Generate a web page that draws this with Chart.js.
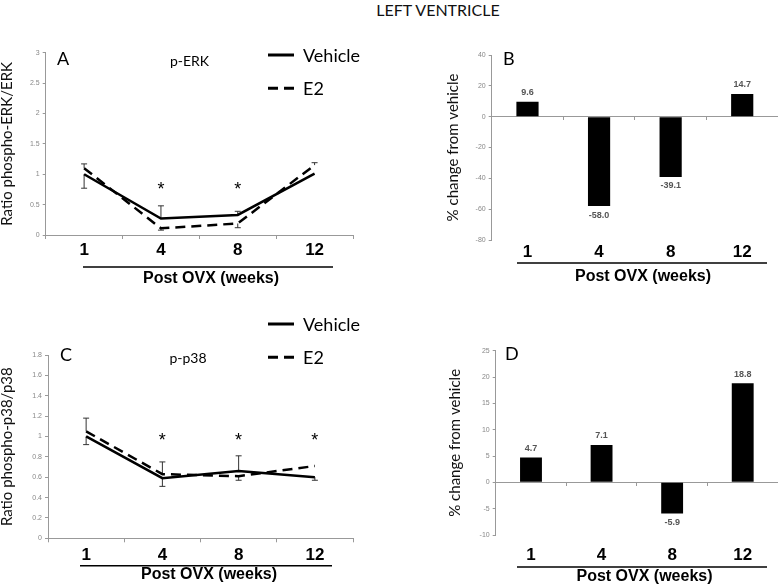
<!DOCTYPE html>
<html>
<head>
<meta charset="utf-8">
<script src="https://cdn.jsdelivr.net/npm/chart.js@4.4.1/dist/chart.umd.min.js"></script>
<style>
  body { margin: 0; background: #fff; width: 778px; height: 586px; position: relative; overflow: hidden; }
  canvas { position: absolute; }
  #title { position: absolute; left: 338px; top: 0; width: 200px; text-align: center; font: 16px Lato, sans-serif; line-height: 20px; color: #111; }
</style>
</head>
<body>
<div id="title">LEFT VENTRICLE</div>
<canvas id="chartA" width="389" height="262" style="left:0;top:30px"></canvas>
<canvas id="chartB" width="389" height="262" style="left:389px;top:30px"></canvas>
<canvas id="chartC" width="389" height="291" style="left:0;top:295px"></canvas>
<canvas id="chartD" width="389" height="291" style="left:389px;top:295px"></canvas>
<script>
const weeks = ['1', '4', '8', '12'];

// A: p-ERK ratio (error bar arrays hold the far end of a one-sided bar)
const erkVehicle = [1.0, 0.27, 0.33, 1.01];
const erkE2 = [1.1, 0.11, 0.19, 1.15];
const erkVehicleErr = [0.77, 0.48, 0.39, null];
const erkE2Err = [1.17, 0.08, 0.12, 1.19];
const erkStars = ['', '*', '*', ''];

// B: % change from vehicle, p-ERK
const erkChange = [9.6, -58.0, -39.1, 14.7];

// C: p-p38 ratio
const p38Vehicle = [1.0, 0.59, 0.66, 0.6];
const p38E2 = [1.05, 0.63, 0.61, 0.71];
const p38VehicleErr = [0.92, 0.51, 0.81, 0.57];
const p38E2Err = [1.18, 0.75, 0.57, null];
const p38Stars = ['', '*', '*', '*'];

// D: % change from vehicle, p-p38
const p38Change = [4.7, 7.1, -5.9, 18.8];

Chart.defaults.font.family = '"Liberation Sans", Arial, sans-serif';
Chart.defaults.animation = false;

const annotate = {
  id: 'annotate',
  beforeDatasetsDraw(chart, args, o) {
    const { ctx, scales: { x, y } } = chart;
    ctx.save();
    ctx.strokeStyle = '#333';
    ctx.lineWidth = 1;
    (o.errors || []).forEach(([vals, ends]) => {
      ends.forEach((end, i) => {
        if (end === null) return;
        const px = x.getPixelForValue(i);
        const y0 = y.getPixelForValue(vals[i]);
        const y1 = y.getPixelForValue(end);
        ctx.beginPath();
        ctx.moveTo(px, y0); ctx.lineTo(px, y1);
        ctx.moveTo(px - 3, y1); ctx.lineTo(px + 3, y1);
        ctx.stroke();
      });
    });
    ctx.restore();
  },
  afterDraw(chart, args, o) {
    const { ctx, scales: { x, y } } = chart;
    ctx.save();
    ctx.fillStyle = '#000';
    ctx.textBaseline = 'middle';

    ctx.font = '18px Lato';
    ctx.textAlign = 'left';
    ctx.fillText(o.letter[0], o.letter[1], o.letter[2]);

    if (o.name) {
      ctx.font = '14px Lato';
      ctx.textAlign = 'center';
      ctx.fillText(o.name[0], o.name[1], o.name[2]);
    }

    if (o.legend) {
      chart.data.datasets.forEach((ds, i) => {
        const ly = o.legend.y[i];
        ctx.strokeStyle = '#000';
        ctx.lineWidth = 3;
        ctx.setLineDash(ds.borderDash || []);
        ctx.beginPath();
        ctx.moveTo(o.legend.x, ly); ctx.lineTo(o.legend.x + 26, ly);
        ctx.stroke();
        ctx.setLineDash([]);
        ctx.font = '18px Lato';
        ctx.textAlign = 'left';
        ctx.fillText(ds.label, o.legend.x + 35, ly + 1);
      });
    }

    if (o.stars) {
      ctx.font = '18px "Liberation Sans"';
      ctx.textAlign = 'center';
      ctx.textBaseline = 'alphabetic';
      o.stars.forEach((s, i) => {
        if (s) ctx.fillText(s, x.getPixelForValue(i), y.getPixelForValue(o.starLevel) + 10);
      });
      ctx.textBaseline = 'middle';
    }

    if (o.barLabels) {
      ctx.font = 'bold 9px "Liberation Sans"';
      ctx.fillStyle = '#555';
      ctx.textAlign = 'center';
      const data = chart.data.datasets[0].data;
      chart.getDatasetMeta(0).data.forEach((bar, i) => {
        const v = data[i];
        ctx.fillText(v.toFixed(1), bar.x, bar.y + (v >= 0 ? -9 : 9));
      });
      ctx.fillStyle = '#000';
    }

    // underline below the week labels and x title
    ctx.strokeStyle = '#000';
    ctx.lineWidth = 1.5;
    ctx.beginPath();
    ctx.moveTo(o.underline[1], o.underline[0]); ctx.lineTo(o.underline[2], o.underline[0]);
    ctx.stroke();
    ctx.font = 'bold 16px "Liberation Sans"';
    ctx.textAlign = 'center';
    ctx.fillText('Post OVX (weeks)', o.xTitle[0], o.xTitle[1]);
    ctx.restore();
  }
};

function yAxis(min, max, step, title, width) {
  return {
    min: min, max: max,
    ticks: { stepSize: step, color: '#888', font: { size: 7 }, padding: 3, callback: v => String(Number(v.toFixed(2))) },
    grid: { drawOnChartArea: false, tickLength: 3, color: '#999' },
    border: { color: '#999' },
    title: { display: true, text: title, color: '#111', font: { family: 'Lato', size: 15, lineHeight: 1 }, padding: 0 },
    afterFit: s => { s.width = width; }
  };
}

function lineX(height, pad) {
  return {
    offset: true,
    ticks: { color: '#000', font: { size: 17, weight: 'bold' }, padding: pad },
    grid: { offset: true, drawOnChartArea: false, tickLength: 4, color: '#999' },
    border: { color: '#999' },
    afterFit: s => { s.height = height; }
  };
}

function barAxes(height, pad) {
  return {
    x: {
      ticks: { color: '#000', font: { size: 17, weight: 'bold' }, padding: pad },
      grid: { display: false, drawTicks: false },
      border: { display: false },
      afterFit: s => { s.height = height; }
    },
    x2: {
      type: 'category', axis: 'x', position: { y: 0 }, offset: true,
      ticks: { display: false },
      grid: { offset: true, drawOnChartArea: false, tickLength: 3, color: '#999' },
      border: { color: '#999' }
    }
  };
}

function lineSets(vehicle, e2) {
  return [
    { label: 'Vehicle', data: vehicle, borderColor: '#000', borderWidth: 2.5, pointRadius: 0, tension: 0 },
    { label: 'E2', data: e2, borderColor: '#000', borderWidth: 2.5, borderDash: [10, 6], pointRadius: 0, tension: 0 }
  ];
}

new Chart(document.getElementById('chartA'), {
  type: 'line',
  data: { labels: weeks, datasets: lineSets(erkVehicle, erkE2) },
  options: {
    responsive: false,
    layout: { padding: { left: 0, top: 22.7, right: 36, bottom: 0 } },
    scales: { x: lineX(57, 1), y: yAxis(0, 3, 0.5, 'Ratio phospho-ERK/ERK', 45.7) },
    plugins: {
      legend: { display: false }, tooltip: { enabled: false },
      annotate: {
        errors: [[erkVehicle, erkVehicleErr], [erkE2, erkE2Err]],
        letter: ['A', 57, 29], name: ['p-ERK', 189.5, 31],
        legend: { x: 268, y: [25, 58.3] },
        stars: erkStars, starLevel: 0.83,
        underline: [237, 83, 333], xTitle: [211, 248.3]
      }
    }
  },
  plugins: [annotate]
});

new Chart(document.getElementById('chartB'), {
  type: 'bar',
  data: { labels: weeks, datasets: [{ label: '% change', data: erkChange, backgroundColor: '#000', barPercentage: 0.31, categoryPercentage: 1 }] },
  options: {
    responsive: false,
    layout: { padding: { left: 56.5, top: 25, right: 0, bottom: 0 } },
    scales: Object.assign(barAxes(52, 2), { y: yAxis(-80, 40, 20, '% change from vehicle', 46.2) }),
    plugins: {
      legend: { display: false }, tooltip: { enabled: false },
      annotate: { letter: ['B', 114, 29], barLabels: true, underline: [233, 128, 378], xTitle: [254, 247] }
    }
  },
  plugins: [annotate]
});

new Chart(document.getElementById('chartC'), {
  type: 'line',
  data: { labels: weeks, datasets: lineSets(p38Vehicle, p38E2) },
  options: {
    responsive: false,
    layout: { padding: { left: 0, top: 60, right: 36, bottom: 0 } },
    scales: { x: lineX(47.7, 2.5), y: yAxis(0, 1.8, 0.2, 'Ratio phospho-p38/p38', 48) },
    plugins: {
      legend: { display: false }, tooltip: { enabled: false },
      annotate: {
        errors: [[p38Vehicle, p38VehicleErr], [p38E2, p38E2Err]],
        letter: ['C', 60, 60.5], name: ['p-p38', 188, 63],
        legend: { x: 268, y: [29, 62.3] },
        stars: p38Stars, starLevel: 1.0,
        underline: [270.7, 80, 332], xTitle: [209, 280]
      }
    }
  },
  plugins: [annotate]
});

new Chart(document.getElementById('chartD'), {
  type: 'bar',
  data: { labels: weeks, datasets: [{ label: '% change', data: p38Change, backgroundColor: '#000', barPercentage: 0.31, categoryPercentage: 1 }] },
  options: {
    responsive: false,
    layout: { padding: { left: 58.5, top: 55.7, right: 0, bottom: 0 } },
    scales: Object.assign(barAxes(51, 10), { y: yAxis(-10, 25, 5, '% change from vehicle', 48.2) }),
    plugins: {
      legend: { display: false }, tooltip: { enabled: false },
      annotate: { letter: ['D', 116, 59], barLabels: true, underline: [272, 128, 378], xTitle: [255.5, 282] }
    }
  },
  plugins: [annotate]
});
</script>
</body>
</html>
